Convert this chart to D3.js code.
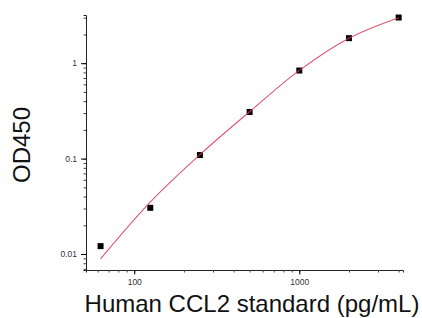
<!DOCTYPE html>
<html>
<head>
<meta charset="utf-8">
<script src="https://cdn.jsdelivr.net/npm/d3@7"></script>
<style>
  body { margin: 0; background: #fff; }
  svg { display: block; font-family: Arial, "Liberation Sans", sans-serif; }
</style>
</head>
<body>
<div id="chart"></div>
<script>
// standards (pg/mL) and measured OD450
const conc = [62.5, 125, 250, 500, 1000, 2000, 4000];
const od = [0.0121, 0.0305, 0.109, 0.308, 0.838, 1.83, 3.01];
// fitted curve at the same concentrations
const fitOd = [0.0089, 0.035, 0.11, 0.31, 0.84, 1.83, 3.0];
const xLabels = [100, 1000];
const yLabels = [0.01, 0.1, 1];

const width = 422;
const height = 318;
const marginLeft = 86;
const marginRight = 19;
const marginTop = 15;
const marginBottom = 48;

const x = d3.scaleLog([51, 4250], [marginLeft, width - marginRight]);
const y = d3.scaleLog([0.0068, 3.2], [height - marginBottom, marginTop]);

const svg = d3.create("svg")
    .attr("width", width)
    .attr("height", height);

// x axis: minor ticks first, then major ones with labels
const xAxis = svg.append("g")
    .attr("transform", `translate(0,${height - marginBottom})`)
    .call(d3.axisBottom(x).tickValues(x.ticks()).tickSize(2.5).tickFormat(""));
xAxis.select(".domain").attr("stroke", "#222");
xAxis.selectAll(".tick line").attr("stroke", "#444");
svg.append("g")
    .attr("transform", `translate(0,${height - marginBottom})`)
    .call(d3.axisBottom(x).tickValues(xLabels).tickSize(4.5).tickPadding(4).tickFormat(d3.format("d")))
    .call(g => g.select(".domain").remove())
    .call(g => g.selectAll("text").attr("font-size", 8.5).attr("fill", "#333"));

// y axis
const yAxis = svg.append("g")
    .attr("transform", `translate(${marginLeft},0)`)
    .call(d3.axisLeft(y).tickValues(y.ticks()).tickSize(2.5).tickFormat(""));
yAxis.select(".domain").attr("stroke", "#222");
yAxis.selectAll(".tick line").attr("stroke", "#444");
svg.append("g")
    .attr("transform", `translate(${marginLeft},0)`)
    .call(d3.axisLeft(y).tickValues(yLabels).tickSize(5).tickPadding(4).tickFormat(d => String(d)))
    .call(g => g.select(".domain").remove())
    .call(g => g.selectAll("text").attr("font-size", 8.5).attr("fill", "#333"));

// points
svg.append("g")
    .selectAll("rect")
    .data(conc.map((c, i) => [c, od[i]]))
    .join("rect")
    .attr("x", d => x(d[0]) - 3)
    .attr("y", d => y(d[1]) - 3)
    .attr("width", 6)
    .attr("height", 6)
    .attr("fill", "#000");

// fit curve drawn over the points
const line = d3.line()
    .x(d => x(d[0]))
    .y(d => y(d[1]))
    .curve(d3.curveCatmullRom.alpha(0.5));

svg.append("path")
    .attr("d", line(conc.map((c, i) => [c, fitOd[i]])))
    .attr("fill", "none")
    .attr("stroke", "#d63a56")
    .attr("stroke-opacity", 0.85)
    .attr("stroke-width", 1.1);

// titles
svg.append("text")
    .text("Human CCL2 standard (pg/mL)")
    .attr("x", 252)
    .attr("y", 312)
    .attr("text-anchor", "middle")
    .attr("font-size", 24)
    .attr("fill", "#111");

svg.append("text")
    .text("OD450")
    .attr("transform", "rotate(-90)")
    .attr("x", -145)
    .attr("y", 30)
    .attr("text-anchor", "middle")
    .attr("font-size", 24)
    .attr("fill", "#111");

d3.select("#chart").append(() => svg.node());
</script>
</body>
</html>
